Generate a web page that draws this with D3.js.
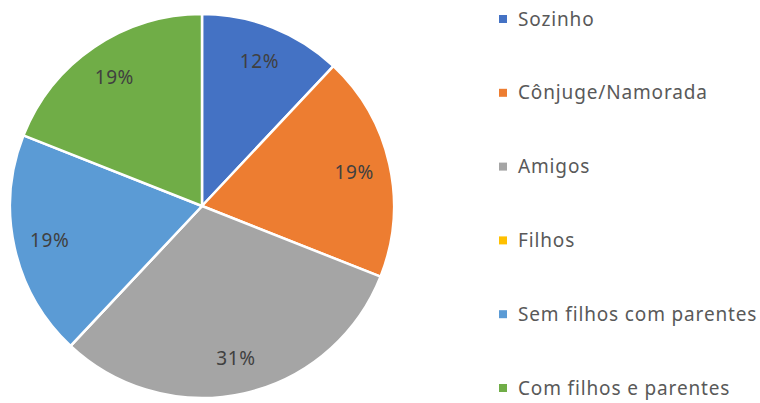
<!DOCTYPE html>
<html>
<head>
<meta charset="utf-8">
<script src="https://cdn.jsdelivr.net/npm/d3@7"></script>
<style>
  body { margin: 0; background: #fff; }
  svg text { font-family: "Noto Sans", "Open Sans", sans-serif; }
</style>
</head>
<body>
<svg id="chart" width="760" height="403"></svg>
<script>
// categories and values (percent)
var categories = ["Sozinho", "Cônjuge/Namorada", "Amigos", "Filhos", "Sem filhos com parentes", "Com filhos e parentes"];
var values = [12, 19, 31, 0, 19, 19];
var colors = ["#4472C4", "#ED7D31", "#A5A5A5", "#FFC000", "#5B9BD5", "#70AD47"];

var svg = d3.select("#chart");
var cx = 202, cy = 206, R = 192;

var data = categories.map(function(c, i) { return {name: c, value: values[i], color: colors[i]}; });

var pie = d3.pie().sort(null).value(function(d) { return d.value; });
var arc = d3.arc().innerRadius(0).outerRadius(R);
var labelArc = d3.arc().innerRadius(156).outerRadius(156);

var g = svg.append("g").attr("transform", "translate(" + cx + "," + cy + ")");

var arcs = pie(data);

g.selectAll("path.slice")
    .data(arcs)
  .enter().append("path")
    .attr("class", "slice")
    .attr("d", arc)
    .attr("fill", function(d) { return d.data.color; })
    .attr("stroke", "#fff")
    .attr("stroke-width", 2.5)
    .attr("stroke-linejoin", "round");

g.selectAll("text.lbl")
    .data(arcs.filter(function(d) { return d.data.value > 0; }))
  .enter().append("text")
    .attr("class", "lbl")
    .attr("transform", function(d) { return "translate(" + labelArc.centroid(d) + ")"; })
    .attr("text-anchor", "middle")
    .attr("dy", "0.35em")
    .attr("font-size", 19)
    .attr("letter-spacing", 0.6)
    .attr("fill", "#404040")
    .text(function(d) { return d.data.value + "%"; });

// legend
var legendY = d3.scalePoint().domain(categories).range([19, 388]);

var legend = svg.append("g").selectAll("g")
    .data(data)
  .enter().append("g")
    .attr("transform", function(d) { return "translate(499," + legendY(d.name) + ")"; });

legend.append("rect")
    .attr("x", 0).attr("y", -4)
    .attr("width", 8).attr("height", 8)
    .attr("fill", function(d) { return d.color; });

legend.append("text")
    .attr("x", 19)
    .attr("dy", "0.35em")
    .attr("font-size", 19)
    .attr("letter-spacing", 0.85)
    .attr("fill", "#595959")
    .text(function(d) { return d.name; });
</script>
</body>
</html>
